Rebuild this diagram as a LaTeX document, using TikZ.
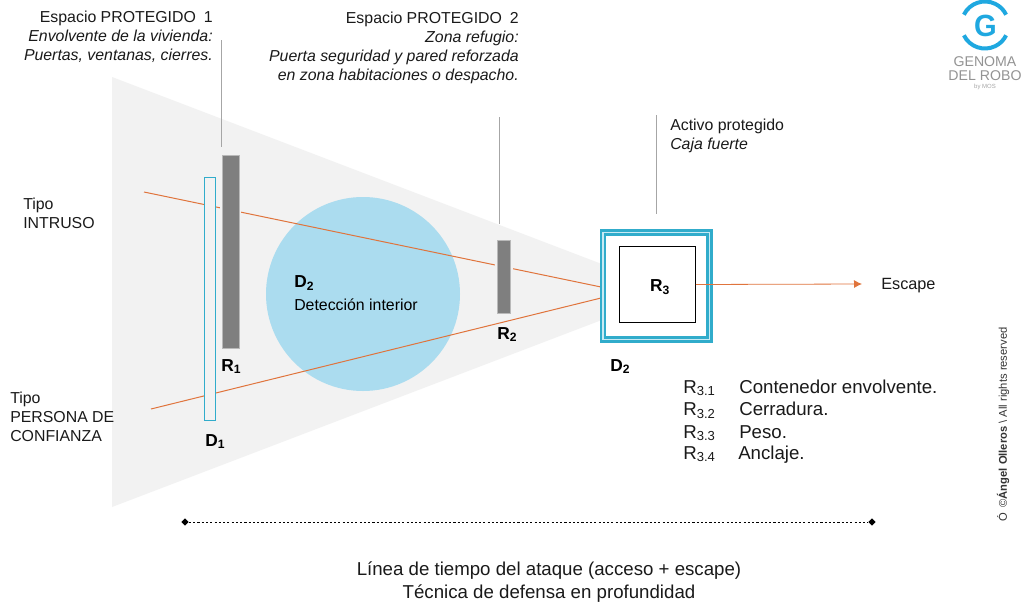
\documentclass[tikz,border=0pt]{standalone}
\usepackage{fontspec}
\setmainfont{Liberation Sans}
\usetikzlibrary{arrows.meta,calc,shapes.geometric}
\definecolor{tricol}{HTML}{F2F2F2}
\definecolor{circ}{HTML}{ABDCEF}
\definecolor{cy}{HTML}{31ACCB}
\definecolor{lcy}{HTML}{C8EAF4}
\definecolor{logoc}{HTML}{1FA8E0}
\definecolor{orng}{HTML}{E0743C}
\definecolor{lead}{HTML}{A6A6A6}
\definecolor{bar}{HTML}{7F7F7F}
\definecolor{txt}{HTML}{1A1A1A}
\tikzset{
  lbl/.style={inner sep=0pt,align=left,text=txt,font=\fontsize{11.9}{14.3}\selectfont},
  rlbl/.style={lbl,align=right},
  clbl/.style={inner sep=0pt,align=center,text=txt,font=\fontsize{14}{17.5}\selectfont},
  tag/.style={inner sep=0pt,text=black,font=\fontsize{13}{14}\selectfont\bfseries},
  barbox/.style={preaction={draw=tricol,line width=2.6pt},draw=bar!55,line width=0.5pt,fill=bar,inner sep=0pt,minimum width=12.75pt},
  leadline/.style={draw=lead,line width=0.6pt},
  attack/.style={draw=orng,line width=0.75pt},
  endmark/.style={diamond,fill=black,inner sep=0pt,minimum size=5.5pt},
  listtxt/.style={anchor=base west,inner sep=0pt,text=txt,font=\fontsize{14}{16}\selectfont},
  logoarc/.style={draw=logoc,line width=3pt},
  logotxt/.style={inner sep=0pt,text=gray!85,font=\fontsize{10.6}{10.6}\selectfont},
}
\begin{document}
\begin{tikzpicture}[x=0.75pt,y=-0.75pt]
\useasboundingbox (0,0) rectangle (1022,615);
\fill[white] (0,0) rectangle (1022,615);
% wedge
\fill[tricol] (112,77) -- (675,292) -- (112,507) -- cycle;
% circle
\node[circle,fill=circ,minimum size=145.5pt,inner sep=0pt] (c) at (363,294) {};
% attack lines
\coordinate (i1) at (144,192);
\coordinate (i2) at (151,409);
\coordinate (sqa) at (601,287);
\coordinate (sqb) at (601,298);
\draw[attack] (i1) -- (sqa);
\draw[attack] (i2) -- (sqb);
% D1, R1, R2
\node[draw=cy,line width=0.8pt,fill=tricol,inner sep=0pt,minimum width=8.2pt,minimum height=182pt] (d1) at (210,299) {};
\node[barbox,minimum height=145pt] (r1) at (230.5,251.5) {};
\node[barbox,minimum width=10.2pt,minimum height=54.5pt] (r2) at (504,276.8) {};
% safe
\node[fill=cy,inner sep=0pt,minimum width=85pt,minimum height=85.5pt] (s1) at (656.3,286) {};
\node[fill=lcy,inner sep=0pt,minimum width=81pt,minimum height=81.5pt] (s2) at (656.3,286) {};
\node[fill=cy,inner sep=0pt,minimum width=79pt,minimum height=79.5pt] (s3) at (656.3,286) {};
\node[fill=white,inner sep=0pt,minimum width=75pt,minimum height=75.5pt] (s4) at (656.3,286) {};
\node[draw=black,line width=0.6pt,fill=white,inner sep=0pt,minimum width=57pt,minimum height=57.5pt] (r3) at (657.5,284.5) {};
\node[tag] (r3t) at (660,287) {R\textsubscript{3}};
% escape
\node[lbl,anchor=west,font=\fontsize{12.2}{14}\selectfont] (esc) at (881,286) {Escape};
\coordinate (arrowend) at (862,284);
\draw[draw=orng,line width=0.6pt,-{Latex[length=6pt,width=6pt]}] (r3.east) -- (arrowend);
% leaders
\coordinate (l1a) at (221,40); \coordinate (l1b) at (221,147);
\coordinate (l2a) at (499,117); \coordinate (l2b) at (499,224);
\coordinate (l3a) at (656,115); \coordinate (l3b) at (656,214);
\draw[leadline] (l1a) -- (l1b);
\draw[leadline] (l2a) -- (l2b);
\draw[leadline] (l3a) -- (l3b);
% top labels
\node[rlbl,anchor=north east] (t1) at (213,11) {Espacio PROTEGIDO\enspace 1\\ \textit{Envolvente de la vivienda:}\\ \textit{Puertas, ventanas, cierres.}};
\node[rlbl,anchor=north east] (t2) at (519,12) {Espacio PROTEGIDO\enspace 2\\ \textit{Zona refugio:}\\ \textit{Puerta seguridad y pared reforzada}\\ \textit{en zona habitaciones o despacho.}};
\node[lbl,anchor=north west] (t3) at (670,119) {Activo protegido\\ \textit{Caja fuerte}};
% left labels
\node[lbl,anchor=north west] (intr) at (23,198) {Tipo\\ INTRUSO};
\node[lbl,anchor=north west] (pers) at (10,392) {Tipo\\ PERSONA DE\\ CONFIANZA};
% tags
\node[tag,anchor=base west] (tr1) at (221,371) {R\textsubscript{1}};
\node[tag,anchor=base west] (td1) at (205,446) {D\textsubscript{1}};
\node[tag,anchor=base west] (tr2) at (497,339) {R\textsubscript{2}};
\node[tag,anchor=base west] (td2b) at (610,371) {D\textsubscript{2}};
\node[lbl,anchor=north west,text=black] (td2) at (294,275) {\textbf{\fontsize{13}{14}\selectfont D\textsubscript{2}}\\[3pt]Detección interior};
% R3 list
\foreach \n/\yy/\xx/\t in {1/393/739/Contenedor envolvente.,2/415.5/739/Cerradura.,3/438/739/Peso.,4/459/738/Anclaje.}{
  \node[listtxt] (rn\n) at (683,\yy) {R\textsubscript{3.\n}};
  \node[listtxt] (rt\n) at (\xx,\yy) {\t};
}
% timeline
\node[endmark] (tl1) at (185,522) {};
\node[endmark] (tl2) at (872,522) {};
\draw[black,line width=0.6pt,dash pattern=on 1.6pt off 1.6pt] (tl1) -- (tl2);
\node[clbl] (bot) at (549,582) {Línea de tiempo del ataque (acceso + escape)\\ Técnica de defensa en profundidad};
% logo
\draw[logoarc] (985,25) ++(154:23.5) arc (154:26:23.5);
\draw[logoarc] (985,25) ++(206:23.5) arc (206:334:23.5);
\node[inner sep=0pt,text=logoc,xscale=0.95,font=\fontsize{23}{23}\selectfont\bfseries] (logoG) at (985.5,26) {G};
\node[logotxt] (logo1) at (985,62) {GENOMA};
\node[logotxt] (logo2) at (985,76) {DEL ROBO};
\node[inner sep=0pt,text=gray!70,font=\fontsize{4.5}{4.5}\selectfont] (logo3) at (985,87) {by MOS};
% copyright
\node[inner sep=0pt,rotate=90,anchor=west,text=black!80,font=\fontsize{8.4}{9}\selectfont] (copy) at (1003,522) {Ó\enspace ©\textbf{Ángel Olleros} \textbackslash\ All rights reserved};
\end{tikzpicture}
\end{document}
